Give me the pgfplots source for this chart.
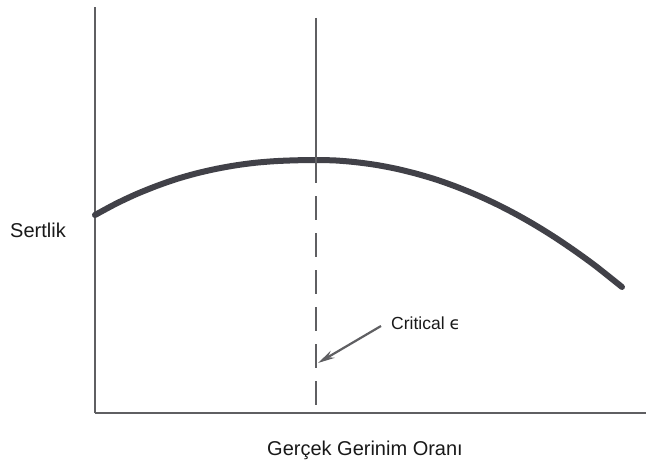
\documentclass[border=0pt]{standalone}
\usepackage{fontspec}
\setmainfont{Liberation Sans}
\newfontfamily\djv{DejaVu Sans}
\usepackage{pgfplots}
\pgfplotsset{compat=1.18}
\usetikzlibrary{arrows.meta}
\definecolor{axisgray}{RGB}{95,95,98}
\definecolor{curvegray}{RGB}{65,65,72}
\definecolor{txt}{RGB}{25,25,25}
\begin{document}
\begin{tikzpicture}
\begin{axis}[
  scale only axis, width=551pt, height=406pt,
  xmin=95, xmax=646, ymin=51, ymax=457,
  axis lines=left,
  axis line style={-, line width=2.2pt, color=axisgray},
  ticks=none, clip=false,
]
\addplot[curvegray, line width=6pt, line cap=round, line join=round, smooth] coordinates {
(95,249) (116,260.3) (136,269.7) (156,277.8) (176,284.8) (196,290.5) (216,295.1)
(236,298.7) (256,301.3) (276,302.9) (296,303.7) (316,304)
(336,303.5) (356,301.8) (376,299.1) (396,295.3) (416,290.4) (436,284.5)
(456,277.4) (476,269.3) (496,260.1) (516,249.8) (536,238.4) (556,225.9)
(576,212.3) (596,197.7) (622,177)};
\addplot[axisgray, line width=2.8pt] coordinates {(316,446) (316,300)};
\addplot[axisgray, line width=2.8pt, dash pattern=on 24pt off 13pt] coordinates {(316,305) (316,51)};
\draw[axisgray, line width=2.2pt, -{Stealth[length=17pt,width=8pt]}] (axis cs:381,138) -- (axis cs:318,101);
\node[anchor=base west, font=\fontsize{17.5}{20}\selectfont, text=txt, inner sep=0pt] at (axis cs:391,135) {Critical {\djv ϵ}};
\node[anchor=base west, font=\fontsize{20}{24}\selectfont, text=txt, inner sep=0pt] at (axis cs:10,227) {Sertlik};
\node[anchor=base, font=\fontsize{20}{24}\selectfont, text=txt, inner sep=0pt] at (axis cs:365,9) {Gerçek Gerinim Oranı};
\coordinate (ll) at (axis cs:0,0);
\coordinate (ur) at (axis cs:646,464);
\end{axis}
\pgfresetboundingbox
\useasboundingbox (ll) rectangle (ur);
\end{tikzpicture}
\end{document}
